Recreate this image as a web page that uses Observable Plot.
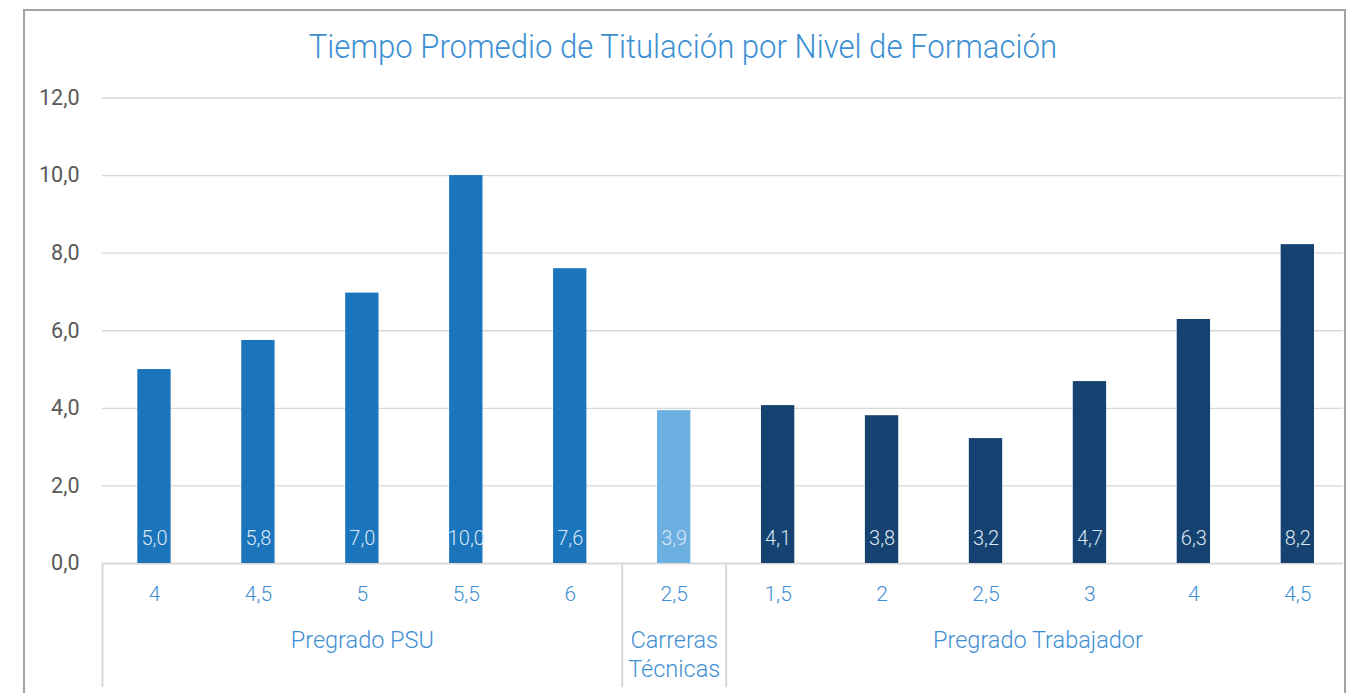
<!DOCTYPE html>
<html>
<head>
<meta charset="utf-8">
<script src="https://cdn.jsdelivr.net/npm/d3@7"></script>
<script src="https://cdn.jsdelivr.net/npm/@observablehq/plot@0.6"></script>
<style>
  html, body { margin: 0; padding: 0; background: #fff; overflow: hidden; width: 1351px; height: 693px; }
  #frame { position: absolute; left: 23px; top: 9px; width: 1319px; height: 720px; border: 2px solid #a3a3a3; pointer-events: none; z-index: 2; }
  #title { position: absolute; left: 0; top: 26px; width: 1365px; text-align: center; font-family: Roboto, sans-serif; font-weight: 300; font-size: 34px; line-height: 40px; color: #3d8fd3; white-space: nowrap; }
  #title span { display: inline-block; transform: scaleX(0.915); transform-origin: center; }
  #chart { position: absolute; left: 0; top: 80px; }
</style>
</head>
<body>
<div id="title"><span>Tiempo Promedio de Titulación por Nivel de Formación</span></div>
<div id="chart"></div>
<div id="frame"></div>
<script>
// Data
const nivel = [
  "Pregrado PSU", "Pregrado PSU", "Pregrado PSU", "Pregrado PSU", "Pregrado PSU",
  "Carreras Técnicas",
  "Pregrado Trabajador", "Pregrado Trabajador", "Pregrado Trabajador",
  "Pregrado Trabajador", "Pregrado Trabajador", "Pregrado Trabajador"
];
const duracion = ["4", "4,5", "5", "5,5", "6", "2,5", "1,5", "2", "2,5", "3", "4", "4,5"];
const tiempo = [5.0, 5.75, 6.97, 10.0, 7.6, 3.94, 4.07, 3.81, 3.22, 4.69, 6.29, 8.22];
const yTicks = [0, 2, 4, 6, 8, 10, 12];
const grupoOrden = ["Pregrado PSU", "Carreras Técnicas", "Pregrado Trabajador"];
const grupoEtiqueta = ["Pregrado PSU", "Carreras\nTécnicas", "Pregrado Trabajador"];
const grupoColor = ["#1b75bc", "#6cb0e2", "#154270"];

const fmt = v => v.toFixed(1).replace(".", ",");

const data = tiempo.map((v, i) => ({ i, v, nivel: nivel[i], dur: duracion[i] }));
const grupos = d3.groups(data, d => d.nivel).map(([name, rows]) => ({
  name,
  label: grupoEtiqueta[grupoOrden.indexOf(name)],
  start: rows[0].i,
  end: rows[rows.length - 1].i + 1
}));
const limites = grupos.map(g => g.start);

const chart = Plot.plot({
  width: 1343,
  height: 613,
  marginLeft: 102,
  marginRight: -6.3,
  marginTop: 17.5,
  marginBottom: 0,
  style: { fontFamily: "Roboto, sans-serif", background: "transparent", overflow: "hidden" },
  x: { domain: [0, data.length], axis: null },
  y: { domain: [-3.351, 12], axis: null },
  color: { domain: grupoOrden, range: grupoColor },
  marks: [
    Plot.ruleY(yTicks.filter(t => t > 0), { stroke: "#d9d9d9", strokeWidth: 1.3 }),
    Plot.ruleY([0], { stroke: "#d9d9d9", strokeWidth: 2.2 }),
    Plot.ruleX(limites, { y1: 0, y2: -3.2, stroke: "#d9d9d9", strokeWidth: 2 }),
    Plot.rectY(data, { x1: "i", x2: d => d.i + 1, y: "v", insetLeft: 35.3, insetRight: 35.3, fill: "nivel" }),
    Plot.text(data, { x: d => d.i + 0.5, y: 0, text: d => fmt(d.v), dy: -25, fill: "#dce7f3", fontSize: 20, fontWeight: 300 }),
    Plot.text(data, { x: d => d.i + 0.5, y: 0, text: "dur", dy: 31, fill: "#3f8fd3", fontSize: 21, fontWeight: 300 }),
    Plot.text(grupos, { x: g => (g.start + g.end) / 2, y: 0, text: "label", lineAnchor: "top", dy: 63.5, lineHeight: 1.25, fill: "#3f8fd3", fontSize: 23.5, fontWeight: 300 }),
    Plot.text(yTicks, { x: 0, y: d => d, text: d => fmt(d), textAnchor: "end", dx: -23, fill: "#595959", fontSize: 21.5 })
  ]
});
document.getElementById("chart").appendChild(chart);
</script>
</body>
</html>
